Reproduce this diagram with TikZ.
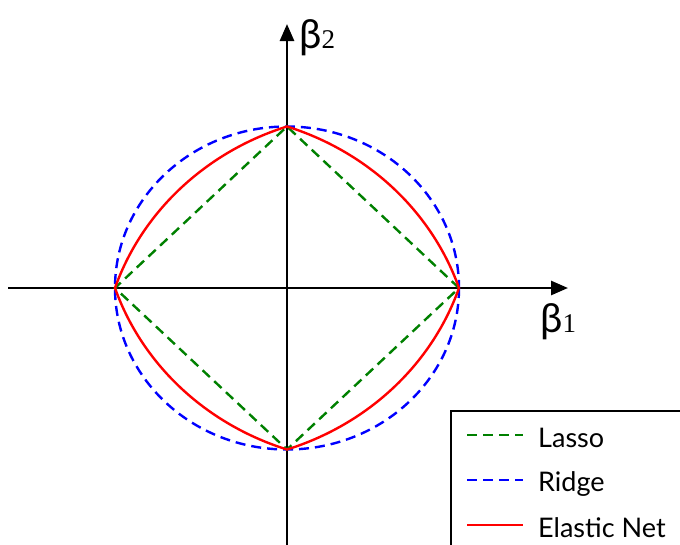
\documentclass[tikz,border=0pt]{standalone}
\usepackage{fontspec}
\setmainfont{Lato}
\newfontfamily\subfont{Liberation Serif}
\usetikzlibrary{positioning,arrows.meta}
\definecolor{lassoc}{HTML}{008000}
\definecolor{ridgec}{HTML}{0000FF}
\definecolor{enetc}{HTML}{FF0000}
\newcommand{\bet}[1]{{\fontsize{40}{40}\selectfont β}{\subfont\fontsize{27}{27}\selectfont #1}}
\tikzset{
  axis/.style  ={draw=black, line width=2.7pt, -{Triangle[length=17pt,width=14pt]}},
  lasso/.style ={draw=lassoc, line width=2.4pt, dash pattern=on 10pt off 6pt},
  ridge/.style ={draw=ridgec, line width=2.4pt, dash pattern=on 10pt off 6pt},
  enet/.style  ={draw=enetc,  line width=2.4pt},
  lbl/.style   ={inner sep=0pt, anchor=base west},
  legtxt/.style={inner sep=0pt, anchor=base west, font=\fontsize{27}{27}\selectfont},
  legbox/.style={draw=black, line width=2pt, fill=white},
  declare function={kk(\t)=abs(cos(\t))+abs(sin(\t)); enr(\t)=(sqrt(kk(\t)*kk(\t)+8)-kk(\t))/2;},
}

\begin{document}
\begin{tikzpicture}[x=1pt,y=-1pt]
    \useasboundingbox (0,0) rectangle (680,544);

    % axes
    \coordinate (o)  at (287,288);
    \coordinate (xl) at (8,288);
    \coordinate (xr) at (568,288);
    \coordinate (yb) at (287,546);
    \coordinate (yt) at (287,24);
    \draw[axis] (xl) -- (xr);
    \draw[axis] (yb) -- (yt);
    \node[lbl] (b1) at (540,332) {\bet{1}};
    \node[lbl] (b2) at (299,48)  {\bet{2}};

    % constraint regions
    \coordinate (e) at (459,288);
    \coordinate (n) at (287,126.5);
    \coordinate (w) at (115,288);
    \coordinate (s) at (287,449.5);
    \draw[ridge] (o) ellipse [x radius=172, y radius=161.5];
    \draw[lasso] (e) -- (n) -- (w) -- (s) -- cycle;
    \begin{scope}[shift={(o)}]
      \draw[enet] plot[domain=0:360,samples=361] ({172*enr(\x)*cos(\x)},{-161.5*enr(\x)*sin(\x)}) -- cycle;
    \end{scope}

    % legend
    \node[legbox,minimum width=234pt,minimum height=140pt,anchor=north west] (leg) at (450,410) {};
    \coordinate (l1a) at (467,435); \coordinate (l1b) at (523,435);
    \coordinate (l2a) at (467,480); \coordinate (l2b) at (523,480);
    \coordinate (l3a) at (467,525); \coordinate (l3b) at (523,525);
    \draw[lasso] (l1a) -- (l1b);
    \draw[ridge] (l2a) -- (l2b);
    \draw[enet]  (l3a) -- (l3b);
    \node[legtxt] (t1) at (538,447) {Lasso};
    \node[legtxt] (t2) at (538,491) {Ridge};
    \node[legtxt] (t3) at (538,537) {Elastic Net};
  \end{tikzpicture}
\end{document}
